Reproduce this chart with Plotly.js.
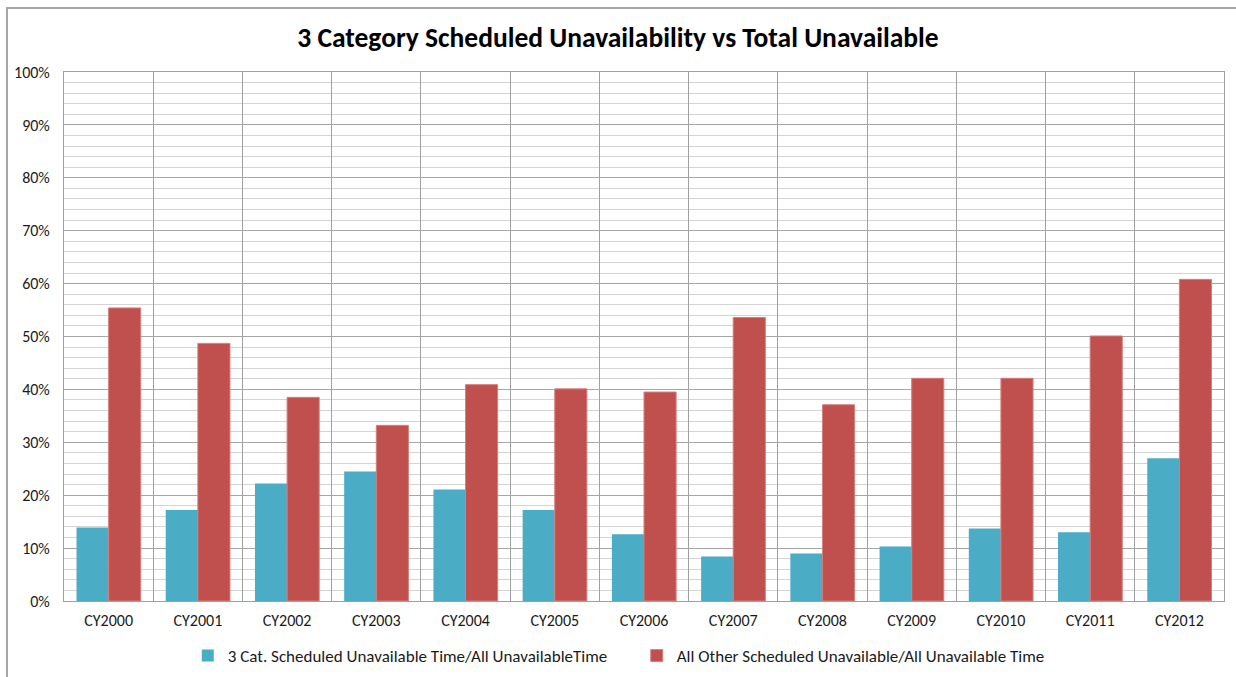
<!DOCTYPE html>
<html>
<head>
<meta charset="utf-8">
<script src="https://cdn.plot.ly/plotly-3.0.1.min.js"></script>
<style>
  html, body { margin: 0; padding: 0; background: #fff; }
  #wrap { position: relative; width: 1236px; height: 677px; }
  #chart { width: 1236px; height: 677px; }
  #frame { position: absolute; left: 6px; top: 7px; width: 1240px; height: 690px;
           border-left: 2px solid #a6a6a6; border-top: 2px solid #a6a6a6; pointer-events: none; }
</style>
</head>
<body>
<div id="wrap">
  <div id="chart"></div>
  <div id="frame"></div>
</div>
<script>
const categories = ["CY2000","CY2001","CY2002","CY2003","CY2004","CY2005","CY2006","CY2007","CY2008","CY2009","CY2010","CY2011","CY2012"];
const threeCat = [0.139, 0.172, 0.222, 0.245, 0.211, 0.172, 0.126, 0.084, 0.090, 0.103, 0.137, 0.130, 0.270];
const allOther = [0.554, 0.487, 0.385, 0.332, 0.409, 0.401, 0.395, 0.536, 0.371, 0.421, 0.421, 0.501, 0.608];
const seriesNames = ["3 Cat. Scheduled Unavailable Time/All UnavailableTime", "All Other Scheduled Unavailable/All Unavailable Time"];
const yTickVals = [0,0.1,0.2,0.3,0.4,0.5,0.6,0.7,0.8,0.9,1.0];
const yTickText = ["0%","10%","20%","30%","40%","50%","60%","70%","80%","90%","100%"];

const FONT = "Calibri, Carlito, Lato, 'Open Sans', sans-serif";

const traces = [
  { type: "bar", x: categories, y: threeCat, name: seriesNames[0],
    marker: { color: "#4bacc6" }, hoverinfo: "x+y" },
  { type: "bar", x: categories, y: allOther, name: seriesNames[1],
    marker: { color: "#c0504d", line: { color: "#d47f7d", width: 1 } }, hoverinfo: "x+y" },
  { type: "scatter", x: [0], y: [0], xaxis: "x2", mode: "markers", marker: { opacity: 0 },
    showlegend: false, hoverinfo: "skip" }
];

const layout = {
  width: 1236, height: 677,
  margin: { l: 64, r: 12, t: 72, b: 76, autoexpand: false },
  paper_bgcolor: "#ffffff", plot_bgcolor: "#ffffff",
  font: { family: FONT, size: 16, color: "#1a1a1a" },
  title: { text: "<b>3 Category Scheduled Unavailability vs Total Unavailable</b>",
           font: { family: FONT, size: 27.5, color: "#000000" },
           x: 0.5, xanchor: "center", y: 0.945, yanchor: "middle" },
  barmode: "group",
  bargap: 0.28, bargroupgap: 0,
  xaxis: { type: "category", showgrid: false, zeroline: false, automargin: false,
           showline: true, linecolor: "#a0a0a0", linewidth: 1, mirror: true,
           ticks: "", tickfont: { family: FONT, size: 16, color: "#1a1a1a" }, ticklabelstandoff: 5 },
  xaxis2: { overlaying: "x", range: [-0.5, 12.5], tick0: -0.5, dtick: 1, showgrid: true,
            gridcolor: "#a0a0a0", gridwidth: 1, showticklabels: false, zeroline: false, ticks: "" },
  yaxis: { range: [0, 1.0], tickvals: yTickVals, ticktext: yTickText, automargin: false,
           showgrid: true, gridcolor: "#a6a6a6", gridwidth: 1,
           minor: { dtick: 0.02, showgrid: true, gridcolor: "#d4d4d4", gridwidth: 1 },
           zeroline: false, showline: true, linecolor: "#a0a0a0", linewidth: 1, mirror: true,
           ticks: "", tickfont: { family: FONT, size: 16, color: "#1a1a1a" }, ticklabelstandoff: 10 },
  legend: { orientation: "h", x: 0.1067, xanchor: "left", yref: "container", y: 0.031, yanchor: "middle",
            font: { family: FONT, size: 17, color: "#1a1a1a" }, itemwidth: 30,
            traceorder: "normal", entrywidth: 404 },
  showlegend: true
};

Plotly.newPlot("chart", traces, layout, { displayModeBar: false, staticPlot: true });
</script>
</body>
</html>
